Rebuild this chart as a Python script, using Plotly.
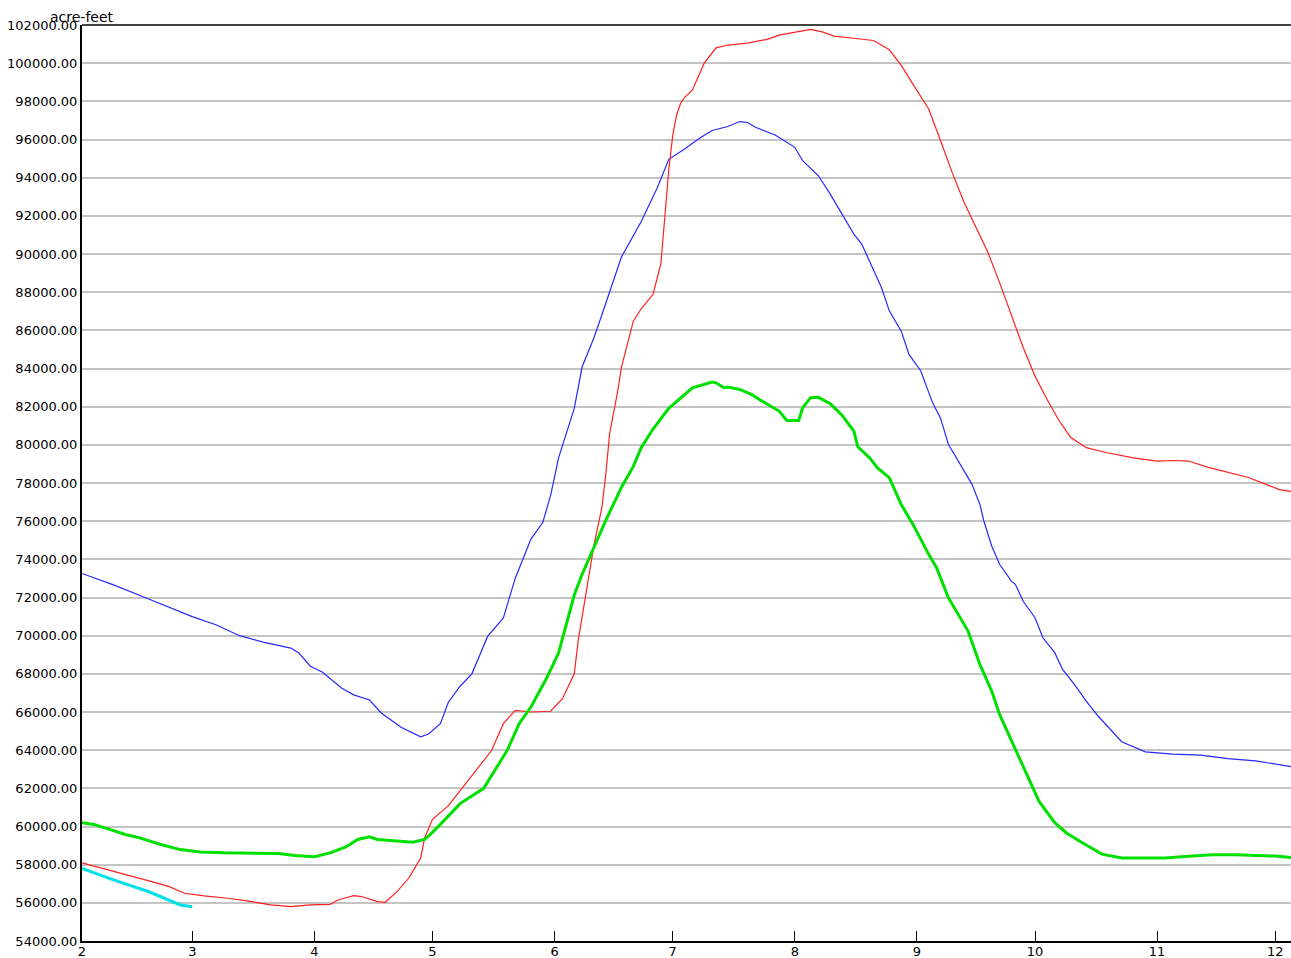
import plotly.graph_objects as go

# ---- data (acre-feet) ----
blue_dates = ["2001-02-01","2001-02-09","2001-02-17","2001-02-23","2001-03-01","2001-03-07","2001-03-13",
              "2001-03-19","2001-03-26","2001-03-28","2001-03-31","2001-04-03","2001-04-08","2001-04-11",
              "2001-04-15","2001-04-18","2001-04-23","2001-04-28","2001-04-30","2001-05-03","2001-05-05",
              "2001-05-08","2001-05-11","2001-05-15","2001-05-19","2001-05-22","2001-05-26","2001-05-29",
              "2001-05-31","2001-06-02","2001-06-06","2001-06-08","2001-06-11","2001-06-13","2001-06-18",
              "2001-06-23","2001-06-27","2001-06-30","2001-07-04","2001-07-08","2001-07-11","2001-07-15",
              "2001-07-18","2001-07-20","2001-07-22","2001-07-27","2001-07-30","2001-08-01","2001-08-03",
              "2001-08-07","2001-08-10","2001-08-13","2001-08-16","2001-08-18","2001-08-20","2001-08-23",
              "2001-08-25","2001-08-28","2001-08-30","2001-09-02","2001-09-05","2001-09-07","2001-09-09",
              "2001-09-12","2001-09-15","2001-09-17","2001-09-18","2001-09-20","2001-09-22","2001-09-25",
              "2001-09-26","2001-09-28","2001-10-01","2001-10-03","2001-10-06","2001-10-08","2001-10-11",
              "2001-10-14","2001-10-17","2001-10-23","2001-10-29","2001-11-05","2001-11-12","2001-11-19",
              "2001-11-26","2001-12-05"]
blue_vals = [73260,72660,72000,71500,71000,70570,70000,
             69660,69350,69100,68400,68100,67250,66900,
             66630,65950,65200,64700,64850,65390,66500,
             67350,68000,69960,70930,73000,75060,75930,
             77350,79300,81910,84090,85610,86800,89850,
             91700,93430,94960,95500,96090,96470,96680,
             96940,96890,96640,96240,95850,95590,94890,
             94100,93140,92090,91040,90520,89640,88240,
             87020,85970,84740,83870,82200,81400,80030,
             78980,77930,76880,76010,74700,73740,72860,
             72690,71800,70940,69890,69110,68230,67450,
             66570,65790,64440,63910,63790,63740,63560,
             63440,63140]

red_dates = ["2001-02-01","2001-02-06","2001-02-12","2001-02-18","2001-02-23","2001-02-27","2001-03-04",
             "2001-03-10","2001-03-15","2001-03-21","2001-03-26","2001-03-31","2001-04-05","2001-04-07",
             "2001-04-11","2001-04-13","2001-04-17","2001-04-19","2001-04-22","2001-04-25","2001-04-27",
             "2001-04-28","2001-04-29","2001-05-01","2001-05-05","2001-05-08","2001-05-16","2001-05-19",
             "2001-05-22","2001-05-26","2001-05-31","2001-06-03","2001-06-06","2001-06-07","2001-06-09",
             "2001-06-11","2001-06-13","2001-06-14","2001-06-15","2001-06-17","2001-06-18","2001-06-21",
             "2001-06-23","2001-06-26","2001-06-28","2001-06-29","2001-06-30","2001-07-01","2001-07-02",
             "2001-07-03","2001-07-04","2001-07-06","2001-07-09","2001-07-12","2001-07-15","2001-07-20",
             "2001-07-25","2001-07-28","2001-08-02","2001-08-05","2001-08-08","2001-08-11","2001-08-17",
             "2001-08-21","2001-08-25","2001-08-28","2001-08-31","2001-09-04","2001-09-07","2001-09-10",
             "2001-09-13","2001-09-16","2001-09-19","2001-09-22","2001-09-25","2001-09-28","2001-10-01",
             "2001-10-04","2001-10-07","2001-10-10","2001-10-14","2001-10-19","2001-10-26","2001-11-01",
             "2001-11-05","2001-11-09","2001-11-14","2001-11-19","2001-11-24","2001-11-29","2001-12-02",
             "2001-12-05"]
red_vals = [58090,57820,57470,57150,56860,56500,56360,
            56240,56100,55890,55800,55890,55920,56150,
            56380,56330,56060,56030,56590,57300,58000,
            58350,59400,60380,61080,61870,63980,65390,
            66090,66000,66040,66700,68000,69740,72350,
            74740,76700,78430,80610,82780,84090,86480,
            87130,87890,89500,92000,94400,96200,97300,
            97900,98200,98600,100000,100800,100950,101050,
            101250,101470,101650,101770,101640,101420,101280,
            101190,100700,99900,98900,97600,95950,94250,
            92700,91400,90100,88500,86800,85100,83600,
            82400,81300,80400,79850,79600,79320,79150,
            79180,79150,78820,78580,78300,77900,77650,
            77560]

green_dates = ["2001-02-01","2001-02-04","2001-02-08","2001-02-12","2001-02-15","2001-02-21","2001-02-26",
               "2001-03-03","2001-03-09","2001-03-15","2001-03-23","2001-03-27","2001-04-01","2001-04-05",
               "2001-04-09","2001-04-12","2001-04-15","2001-04-17","2001-04-22","2001-04-26","2001-04-29",
               "2001-04-30","2001-05-03","2001-05-05","2001-05-08","2001-05-14","2001-05-20","2001-05-23",
               "2001-05-26","2001-05-30","2001-06-02","2001-06-04","2001-06-06","2001-06-08","2001-06-11",
               "2001-06-14","2001-06-18","2001-06-21","2001-06-23","2001-06-26","2001-06-30","2001-07-03",
               "2001-07-06","2001-07-11","2001-07-12","2001-07-14","2001-07-15","2001-07-18","2001-07-21",
               "2001-07-23","2001-07-25","2001-07-28","2001-07-30","2001-08-02","2001-08-03","2001-08-05",
               "2001-08-07","2001-08-10","2001-08-13","2001-08-16","2001-08-17","2001-08-20","2001-08-22",
               "2001-08-25","2001-08-28","2001-08-31","2001-09-04","2001-09-06","2001-09-09","2001-09-14",
               "2001-09-17","2001-09-20","2001-09-22","2001-09-26","2001-09-29","2001-10-02","2001-10-06",
               "2001-10-09","2001-10-13","2001-10-18","2001-10-23","2001-11-03","2001-11-10","2001-11-15",
               "2001-11-21","2001-12-01","2001-12-05"]
green_vals = [60200,60110,59850,59580,59440,59060,58790,
              58670,58620,58600,58580,58480,58420,58620,
              58930,59320,59460,59320,59230,59180,59320,
              59500,60110,60550,61200,62000,64000,65390,
              66260,67780,69090,70610,72130,73220,74630,
              76040,77780,78870,79850,80830,81910,82470,
              82990,83290,83250,82990,83030,82900,82640,
              82380,82120,81770,81280,81280,81940,82470,
              82490,82150,81550,80720,79900,79320,78790,
              78280,76880,75830,74260,73560,71990,70240,
              68490,67100,65870,64040,62730,61330,60200,
              59660,59150,58550,58350,58350,58450,58520,
              58520,58450,58380]

cyan_dates = ["2001-02-01","2001-02-09","2001-02-18","2001-02-23","2001-02-26","2001-03-01"]
cyan_vals = [57800,57200,56580,56150,55890,55800]

y_ticks = list(range(54000, 102001, 2000))

FONT = "DejaVu Sans"

fig = go.Figure()
fig.add_trace(go.Scatter(x=blue_dates, y=blue_vals, mode="lines",
                         line=dict(color="#2828ff", width=1.2), name="blue"))
fig.add_trace(go.Scatter(x=red_dates, y=red_vals, mode="lines",
                         line=dict(color="#ff2020", width=1.2), name="red"))
fig.add_trace(go.Scatter(x=green_dates, y=green_vals, mode="lines",
                         line=dict(color="#00e000", width=3), name="green"))
fig.add_trace(go.Scatter(x=cyan_dates, y=cyan_vals, mode="lines",
                         line=dict(color="#00e0e8", width=3), name="cyan"))

fig.update_layout(
    width=1291, height=958,
    margin=dict(l=82, r=0, t=25, b=17, autoexpand=False),
    paper_bgcolor="white", plot_bgcolor="white",
    showlegend=False,
    font=dict(family=FONT, size=13, color="black"),
    xaxis=dict(
        type="date", range=["2001-02-01", "2001-12-05"], automargin=False,
        tickmode="linear", tick0="2001-02-01", dtick="M1", tickformat="%-m",
        ticks="inside", ticklen=10, tickwidth=1, tickcolor="black",
        ticklabelstandoff=-2,
        showgrid=False, zeroline=False,
        showline=True, linecolor="black", linewidth=1.5,
        tickfont=dict(family=FONT, size=13, color="black"),
    ),
    yaxis=dict(
        range=[54000, 102000], tickmode="array", tickvals=y_ticks, automargin=False,
        ticktext=[f"{v:.2f}" for v in y_ticks],
        ticks="", showgrid=True, gridcolor="#c4c4c4", gridwidth=1.6,
        zeroline=False, showline=True, linecolor="black", linewidth=2,
        tickfont=dict(family=FONT, size=13, color="black"),
    ),
    shapes=[dict(type="line", xref="paper", yref="paper", x0=0, x1=1, y0=1, y1=1,
                 line=dict(color="#444444", width=2))],
    annotations=[dict(text="acre-feet", xref="paper", yref="paper", x=0, y=1,
                      xanchor="center", yanchor="bottom", showarrow=False, yshift=-2,
                      font=dict(family=FONT, size=14, color="black"))],
)

fig.write_html("out.html", config={"displayModeBar": False},
               post_script="document.body.style.margin='0';document.body.style.padding='0';")
